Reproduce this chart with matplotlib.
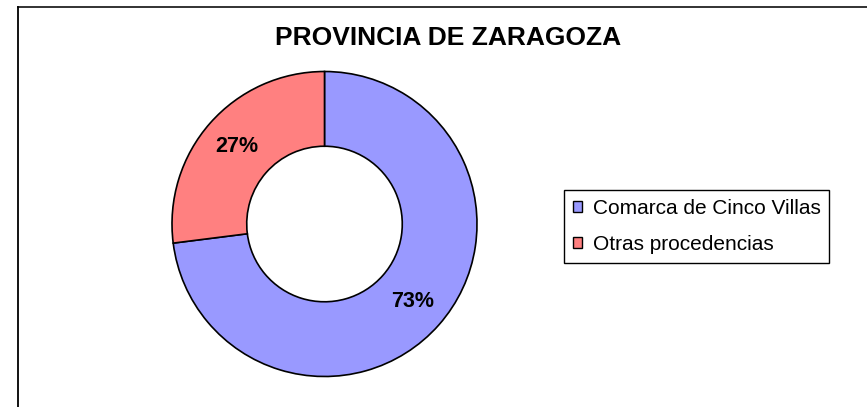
import matplotlib
matplotlib.use('Agg')
import matplotlib.pyplot as plt
from matplotlib.patches import Patch
from matplotlib.lines import Line2D

plt.rcParams['font.family'] = ['Liberation Sans', 'DejaVu Sans']

# data
labels = ['Comarca de Cinco Villas', 'Otras procedencias']
shares = [73, 27]
colors = ['#9999FF', '#FF8080']
title = 'PROVINCIA DE ZARAGOZA'

W, H = 867, 407
fig = plt.figure(figsize=(W / 100, H / 100), dpi=100)

# donut centred at about (324.5, 224) px, outer radius about 152.5 px
cx, cy, r = 324.5, 224, 152.5
ax = fig.add_axes([(cx - r) / W, (H - cy - r) / H, 2 * r / W, 2 * r / H])
wedges, texts, autotexts = ax.pie(
    shares, colors=colors, startangle=90, counterclock=False,
    autopct='%1.0f%%', pctdistance=0.77,
    wedgeprops=dict(width=0.49, edgecolor='black', linewidth=1.2),
    textprops=dict(fontsize=15.5, fontweight='bold', color='black'))
ax.set_xlim(-1, 1)
ax.set_ylim(-1, 1)
ax.set_aspect('equal')
ax.axis('off')

fig.text(448.5 / W, 1 - 38 / H, title, ha='center', va='center',
         fontsize=19, fontweight='bold')

handles = [Patch(facecolor=c, edgecolor='black', linewidth=1.0) for c in colors]
leg = fig.legend(handles, labels, loc='center left',
                 bbox_to_anchor=(564 / W, 1 - 226.5 / H),
                 fontsize=15, frameon=True, fancybox=False,
                 edgecolor='black', framealpha=1,
                 handlelength=0.45, handleheight=0.45, handletextpad=0.5,
                 labelspacing=0.84, borderpad=0.42, borderaxespad=0)
leg.get_frame().set_linewidth(1.0)

# chart-area border: only top and left edges visible
fig.add_artist(Line2D([18 / W, 1], [1 - 6.5 / H, 1 - 6.5 / H], color='#222222', linewidth=1.3))
fig.add_artist(Line2D([17.5 / W, 17.5 / W], [0, 1 - 6.5 / H], color='black', linewidth=1.3))

fig.savefig('out.png', dpi=100)
